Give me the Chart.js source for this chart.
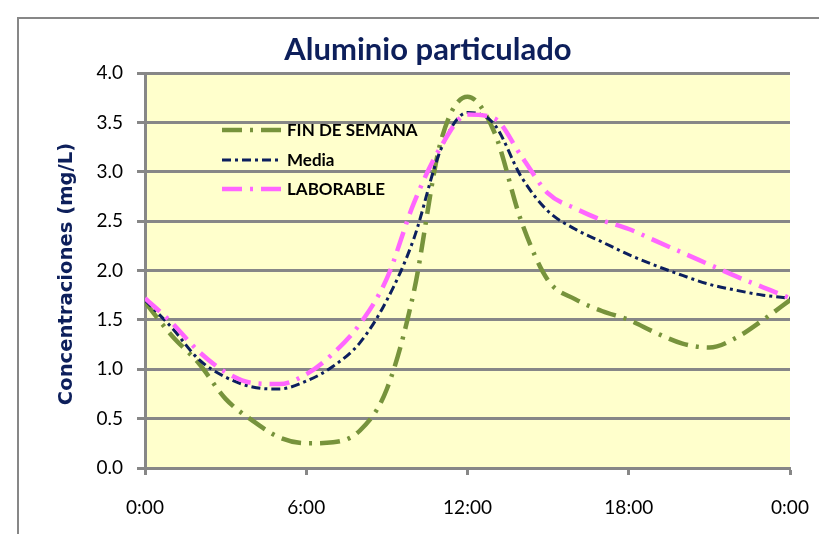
<!DOCTYPE html>
<html>
<head>
<meta charset="utf-8">
<script src="https://cdn.jsdelivr.net/npm/chart.js@4/dist/chart.umd.min.js"></script>
<style>
  html, body { margin: 0; padding: 0; background: #fff; }
  #wrap { width: 819px; height: 534px; }
</style>
</head>
<body>
<div id="wrap"><canvas id="chart" width="819" height="534"></canvas></div>
<script>
var hours = [0, 1, 2, 3, 4, 5, 6, 7, 8, 9, 10, 11, 12, 13, 14, 15, 16, 17, 18, 19, 20, 21, 22, 23, 24];

var finDeSemana = [1.68, 1.34, 1.06, 0.70, 0.48, 0.31, 0.25, 0.26, 0.38, 0.80, 1.78, 3.30, 3.76, 3.40, 2.50, 1.90, 1.71, 1.59, 1.50, 1.37, 1.26, 1.22, 1.32, 1.50, 1.70];
var media = [1.70, 1.42, 1.10, 0.92, 0.82, 0.80, 0.88, 1.03, 1.27, 1.70, 2.32, 3.22, 3.60, 3.48, 2.95, 2.60, 2.42, 2.29, 2.16, 2.05, 1.95, 1.86, 1.80, 1.75, 1.72];
var laborable = [1.72, 1.47, 1.18, 0.97, 0.86, 0.85, 0.95, 1.16, 1.46, 1.92, 2.68, 3.25, 3.58, 3.54, 3.16, 2.78, 2.63, 2.51, 2.42, 2.30, 2.18, 2.06, 1.94, 1.83, 1.72];

var xTicks = [0, 6, 12, 18, 24];
var xTickLabels = ['0:00', '6:00', '12:00', '18:00', '0:00'];

var seriesNames = ['FIN DE SEMANA', 'Media', 'LABORABLE'];
var seriesColors = ['#77933C', '#0C1F5E', '#FF66FF'];
var seriesDash = [[20, 8, 3, 8], [9, 4, 3, 4], [20, 8, 3, 8]];
var seriesWidth = [4.5, 3, 4.5];

var GRID = '#878787';
var NAVY = '#0D1F5B';

function points(values) {
  var out = [];
  for (var i = 0; i < hours.length; i++) {
    out.push({ x: hours[i], y: values[i] });
  }
  return out;
}

var decor = {
  id: 'decor',
  beforeDraw: function(chart) {
    var ctx = chart.ctx, a = chart.chartArea;
    ctx.save();
    ctx.fillStyle = '#fff';
    ctx.fillRect(0, 0, chart.width, chart.height);
    // outer frame
    ctx.strokeStyle = GRID;
    ctx.lineWidth = 2;
    ctx.beginPath();
    ctx.moveTo(18, chart.height + 5);
    ctx.lineTo(18, 18);
    ctx.lineTo(chart.width + 5, 18);
    ctx.stroke();
    // plot background
    ctx.fillStyle = '#FFFFCC';
    ctx.fillRect(a.left, a.top, a.right - a.left, a.bottom - a.top);
    ctx.restore();
  },
  afterDraw: function(chart) {
    var ctx = chart.ctx;
    ctx.save();
    // title
    ctx.fillStyle = NAVY;
    ctx.font = 'bold 31px Lato';
    ctx.textAlign = 'center';
    ctx.textBaseline = 'alphabetic';
    ctx.fillText('Aluminio particulado', 428, 60);
    // y axis title, fitted to ~262px
    ctx.save();
    ctx.translate(67, 274);
    ctx.rotate(-Math.PI / 2);
    ctx.font = 'bold 17px "DejaVu Sans"';
    var w = ctx.measureText('Concentraciones (mg/L)').width;
    var size = Math.max(14, Math.min(22, 17 * 262 / w));
    ctx.font = 'bold ' + size.toFixed(1) + 'px "DejaVu Sans"';
    ctx.textBaseline = 'middle';
    ctx.fillText('Concentraciones (mg/L)', 0, 0);
    ctx.restore();
    // legend
    var ys = [130, 160, 189];
    ctx.textAlign = 'left';
    ctx.textBaseline = 'middle';
    for (var i = 0; i < seriesNames.length; i++) {
      ctx.strokeStyle = seriesColors[i];
      ctx.lineWidth = seriesWidth[i];
      ctx.setLineDash(seriesDash[i]);
      ctx.beginPath();
      ctx.moveTo(222, ys[i]);
      ctx.lineTo(281, ys[i]);
      ctx.stroke();
      ctx.setLineDash([]);
      ctx.fillStyle = '#000';
      ctx.font = 'bold 17px Lato';
      ctx.fillText(seriesNames[i], 287, ys[i] + 1);
    }
    ctx.restore();
  }
};

var datasets = [];
for (var i = 0; i < seriesNames.length; i++) {
  datasets.push({
    label: seriesNames[i],
    data: points([finDeSemana, media, laborable][i]),
    borderColor: seriesColors[i],
    borderWidth: seriesWidth[i],
    borderDash: seriesDash[i],
    pointRadius: 0,
    fill: false,
    cubicInterpolationMode: 'monotone',
    order: seriesNames.length - i
  });
}

new Chart(document.getElementById('chart'), {
  type: 'line',
  data: { datasets: datasets },
  options: {
    responsive: false,
    animation: false,
    devicePixelRatio: 1,
    layout: { padding: { left: 55, right: 29, top: 73, bottom: 0 } },
    plugins: {
      legend: { display: false },
      tooltip: { enabled: false },
      title: { display: false }
    },
    scales: {
      x: {
        type: 'linear',
        min: 0,
        max: 24,
        afterFit: function(s) {
          s.height = 66;
          s.paddingLeft = 0;
          s.paddingRight = 0;
        },
        afterBuildTicks: function(s) {
          s.ticks = xTicks.map(function(v) { return { value: v }; });
        },
        ticks: {
          autoSkip: false,
          maxRotation: 0,
          padding: 21,
          color: '#000',
          font: { family: 'Lato', size: 19 },
          callback: function(v, idx) { return xTickLabels[idx]; }
        },
        grid: { drawOnChartArea: false, tickLength: 7, tickColor: GRID, tickWidth: 3 },
        border: { color: GRID, width: 3 }
      },
      y: {
        min: 0,
        max: 4,
        afterFit: function(s) {
          s.width = 90;
          s.paddingTop = 0;
          s.paddingBottom = 0;
        },
        ticks: {
          stepSize: 0.5,
          padding: 14,
          color: '#000',
          font: { family: 'Lato', size: 19 },
          callback: function(v) { return v.toFixed(1); }
        },
        grid: { color: GRID, lineWidth: 3, tickLength: 8, tickColor: GRID, tickWidth: 3 },
        border: { color: GRID, width: 3 }
      }
    }
  },
  plugins: [decor]
});
</script>
</body>
</html>
